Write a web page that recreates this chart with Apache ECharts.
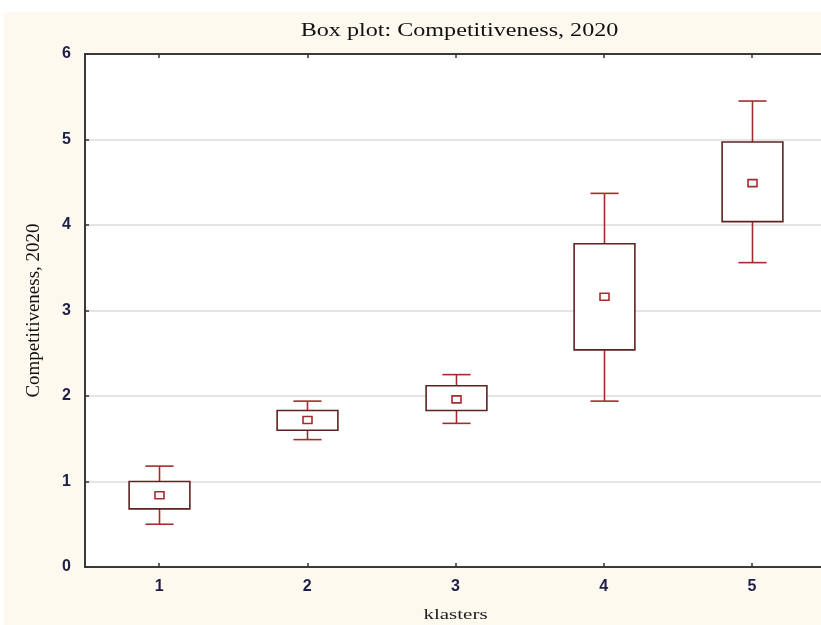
<!DOCTYPE html>
<html>
<head>
<meta charset="utf-8">
<script src="https://cdn.jsdelivr.net/npm/echarts@6/dist/echarts.min.js"></script>
<style>
html,body{margin:0;padding:0;background:#fff;}
#c{width:821px;height:625px;}
</style>
</head>
<body>
<div id="c"></div>
<script>
const categories = ['1', '2', '3', '4', '5'];
const whiskerLow = [0.50, 1.49, 1.68, 1.94, 3.56];
const q1 = [0.68, 1.60, 1.83, 2.54, 4.04];
const means = [0.84, 1.72, 1.96, 3.16, 4.49];
const q3 = [1.00, 1.83, 2.12, 3.78, 4.97];
const whiskerHigh = [1.18, 1.94, 2.25, 4.37, 5.45];
const yTicks = [0, 1, 2, 3, 4, 5, 6];
const titleText = 'Box plot: Competitiveness, 2020';
const xName = 'klasters';
const yName = 'Competitiveness, 2020';

const data = categories.map((c, i) => [i, whiskerLow[i], q1[i], means[i], q3[i], whiskerHigh[i]]);

const boxColor = '#5e2222';
const whiskColor = '#a52c2c';
const labelFont = {fontFamily: 'Liberation Sans', fontSize: 16, fontWeight: 'bold', color: '#1e1e46'};

const chart = echarts.init(document.getElementById('c'));
chart.setOption({
  backgroundColor: '#fdf9ef',
  animation: false,
  graphic: [
    {type: 'rect', left: 0, top: 0, shape: {width: 821, height: 12}, style: {fill: '#fff'}, silent: true},
    {type: 'rect', left: 0, top: 0, shape: {width: 4, height: 625}, style: {fill: '#fff'}, silent: true},
    {type: 'text', x: 459.5, y: 31, scaleX: 1.27, silent: true,
      style: {text: titleText, fontFamily: 'Liberation Serif', fontSize: 19, fill: '#111',
        align: 'center', verticalAlign: 'middle', textAlign: 'center', textVerticalAlign: 'middle'}},
    {type: 'text', x: 455.5, y: 615, scaleX: 1.4, silent: true,
      style: {text: xName, fontFamily: 'Liberation Serif', fontSize: 15, fill: '#222',
        align: 'center', verticalAlign: 'middle', textAlign: 'center', textVerticalAlign: 'middle'}}
  ],
  grid: {
    left: 85, top: 54, width: 741, height: 513,
    outerBoundsMode: 'none', containLabel: false,
    show: true, backgroundColor: '#ffffff', borderWidth: 0
  },
  xAxis: [{
    type: 'category', data: categories, boundaryGap: true, position: 'bottom',
    axisLine: {show: true, lineStyle: {color: '#3a3a3a', width: 2}},
    axisTick: {show: true, alignWithLabel: true, inside: true, length: 4, lineStyle: {color: '#333', width: 1.5}},
    axisLabel: Object.assign({margin: 12}, labelFont),
    splitLine: {show: false}
  }, {
    type: 'category', data: categories, boundaryGap: true, position: 'top',
    axisLine: {show: true, lineStyle: {color: '#3a3a3a', width: 2}},
    axisTick: {show: true, alignWithLabel: true, inside: true, length: 4, lineStyle: {color: '#333', width: 1.5}},
    axisLabel: {show: false}
  }],
  yAxis: {
    type: 'value', min: 0, max: 6, interval: 1,
    name: yName, nameLocation: 'middle', nameGap: 41, nameRotate: 90,
    nameTextStyle: {fontFamily: 'Liberation Serif', fontSize: 19, color: '#111'},
    axisLine: {show: true, lineStyle: {color: '#3a3a3a', width: 2}},
    axisTick: {show: true, inside: true, length: 4, lineStyle: {color: '#333', width: 1.5}},
    axisLabel: Object.assign({margin: 14,
      formatter: v => yTicks.includes(v) ? String(v) : ''}, labelFont),
    splitLine: {show: true, lineStyle: {color: '#dcdcdc', width: 1.5}}
  },
  series: [{
    type: 'custom',
    xAxisIndex: 0,
    encode: {x: 0, y: [1, 2, 3, 4, 5]},
    data: data,
    renderItem: function (params, api) {
      const i = api.value(0);
      const pLow = api.coord([i, api.value(1)]);
      const pQ1 = api.coord([i, api.value(2)]);
      const pMean = api.coord([i, api.value(3)]);
      const pQ3 = api.coord([i, api.value(4)]);
      const pHigh = api.coord([i, api.value(5)]);
      const band = api.size([1, 0])[0];
      const bw = band * 0.41;
      const cw = band * 0.19;
      const cx = Math.round(pQ1[0]) + 0.5;
      const wStyle = {stroke: whiskColor, lineWidth: 1.6, fill: null};
      return {
        type: 'group',
        children: [
          {type: 'line', shape: {x1: cx, y1: pQ3[1], x2: cx, y2: pHigh[1]}, style: wStyle},
          {type: 'line', shape: {x1: cx, y1: pQ1[1], x2: cx, y2: pLow[1]}, style: wStyle},
          {type: 'line', shape: {x1: cx - cw / 2, y1: pHigh[1], x2: cx + cw / 2, y2: pHigh[1]}, style: wStyle},
          {type: 'line', shape: {x1: cx - cw / 2, y1: pLow[1], x2: cx + cw / 2, y2: pLow[1]}, style: wStyle},
          {type: 'rect', shape: {x: cx - bw / 2, y: pQ3[1], width: bw, height: pQ1[1] - pQ3[1]},
            style: {stroke: boxColor, lineWidth: 1.6, fill: '#fff'}},
          {type: 'rect', shape: {x: cx - 4.5, y: pMean[1] - 3.5, width: 9, height: 7},
            style: {stroke: whiskColor, lineWidth: 1.6, fill: '#fff'}}
        ]
      };
    }
  }]
});
</script>
</body>
</html>
